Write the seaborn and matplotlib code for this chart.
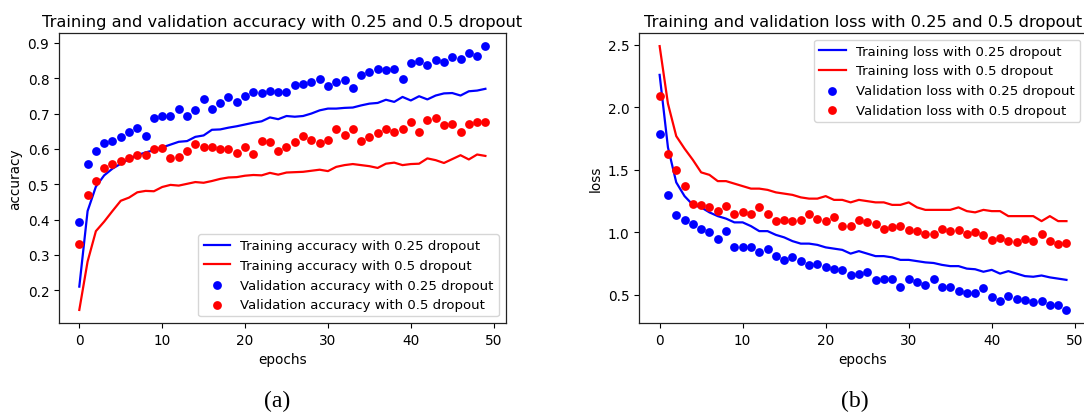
import numpy as np
import matplotlib
matplotlib.use("Agg")
import matplotlib.pyplot as plt
import seaborn as sns

epochs = list(range(50))

train_acc_25 = [0.210, 0.424, 0.493, 0.525, 0.544, 0.558, 0.571, 0.582, 0.590, 0.596,
                0.604, 0.612, 0.620, 0.622, 0.634, 0.638, 0.654, 0.655, 0.660, 0.664,
                0.669, 0.674, 0.678, 0.689, 0.684, 0.693, 0.691, 0.693, 0.700, 0.709,
                0.714, 0.714, 0.716, 0.717, 0.723, 0.728, 0.730, 0.739, 0.733, 0.747,
                0.737, 0.749, 0.740, 0.751, 0.757, 0.758, 0.751, 0.763, 0.765, 0.770]
train_acc_5 = [0.144, 0.281, 0.367, 0.394, 0.424, 0.453, 0.462, 0.477, 0.481, 0.480,
               0.492, 0.498, 0.496, 0.501, 0.506, 0.504, 0.509, 0.515, 0.519, 0.520,
               0.524, 0.526, 0.525, 0.532, 0.527, 0.533, 0.534, 0.535, 0.538, 0.541,
               0.537, 0.549, 0.554, 0.557, 0.554, 0.551, 0.546, 0.558, 0.561, 0.554,
               0.557, 0.558, 0.573, 0.568, 0.560, 0.571, 0.582, 0.570, 0.584, 0.580]
val_acc_25 = [0.392, 0.557, 0.593, 0.618, 0.622, 0.633, 0.649, 0.660, 0.637, 0.686,
              0.694, 0.692, 0.712, 0.692, 0.710, 0.740, 0.712, 0.730, 0.746, 0.733,
              0.750, 0.760, 0.759, 0.764, 0.760, 0.762, 0.780, 0.784, 0.789, 0.797,
              0.779, 0.789, 0.794, 0.772, 0.810, 0.817, 0.825, 0.824, 0.827, 0.797,
              0.843, 0.850, 0.836, 0.851, 0.845, 0.860, 0.855, 0.871, 0.862, 0.891]
val_acc_5 = [0.332, 0.470, 0.510, 0.545, 0.558, 0.565, 0.575, 0.582, 0.583, 0.600,
             0.603, 0.575, 0.576, 0.593, 0.614, 0.606, 0.604, 0.601, 0.600, 0.587,
             0.605, 0.586, 0.623, 0.619, 0.595, 0.605, 0.619, 0.637, 0.626, 0.617,
             0.626, 0.655, 0.640, 0.655, 0.622, 0.634, 0.645, 0.655, 0.648, 0.655,
             0.676, 0.648, 0.683, 0.687, 0.667, 0.670, 0.648, 0.671, 0.676, 0.676]

train_loss_25 = [2.26, 1.68, 1.40, 1.29, 1.22, 1.20, 1.16, 1.13, 1.11, 1.08,
                 1.08, 1.05, 1.01, 1.01, 0.98, 0.96, 0.93, 0.91, 0.91, 0.90,
                 0.88, 0.87, 0.86, 0.83, 0.85, 0.83, 0.81, 0.81, 0.80, 0.78,
                 0.78, 0.77, 0.76, 0.755, 0.74, 0.73, 0.73, 0.71, 0.705, 0.685,
                 0.70, 0.67, 0.69, 0.67, 0.65, 0.645, 0.655, 0.64, 0.63, 0.62]
train_loss_5 = [2.49, 2.03, 1.77, 1.67, 1.58, 1.48, 1.46, 1.41, 1.41, 1.39,
                1.37, 1.35, 1.35, 1.34, 1.32, 1.31, 1.30, 1.28, 1.27, 1.27,
                1.29, 1.26, 1.26, 1.24, 1.26, 1.25, 1.24, 1.24, 1.22, 1.22,
                1.24, 1.20, 1.18, 1.18, 1.18, 1.18, 1.20, 1.17, 1.16, 1.18,
                1.17, 1.17, 1.13, 1.13, 1.13, 1.13, 1.09, 1.13, 1.09, 1.09]
val_loss_25 = [1.79, 1.30, 1.14, 1.10, 1.07, 1.03, 1.00, 0.95, 1.01, 0.88,
               0.88, 0.88, 0.84, 0.87, 0.81, 0.78, 0.80, 0.775, 0.74, 0.75,
               0.72, 0.71, 0.70, 0.66, 0.67, 0.685, 0.62, 0.63, 0.625, 0.565,
               0.63, 0.605, 0.58, 0.625, 0.56, 0.56, 0.53, 0.515, 0.515, 0.555,
               0.485, 0.45, 0.49, 0.465, 0.46, 0.445, 0.455, 0.42, 0.42, 0.38]
val_loss_5 = [2.09, 1.63, 1.50, 1.37, 1.23, 1.22, 1.20, 1.17, 1.21, 1.15,
              1.16, 1.15, 1.20, 1.15, 1.09, 1.10, 1.09, 1.10, 1.15, 1.11,
              1.09, 1.12, 1.05, 1.05, 1.10, 1.08, 1.07, 1.03, 1.04, 1.05,
              1.02, 1.01, 0.99, 0.99, 1.03, 1.01, 1.02, 0.99, 1.00, 0.98,
              0.94, 0.955, 0.93, 0.92, 0.945, 0.93, 0.99, 0.93, 0.91, 0.915]

plt.rcParams['font.family'] = ['DejaVu Sans']
FS = 9.8
LFS = 9.5
TFS = 11.7
LW = 1.6
MS = 40

W, H = 1084, 414
fig = plt.figure(figsize=(W / 100, H / 100), dpi=100)
ax1 = fig.add_axes([59 / W, 90 / H, (505.7 - 59) / W, 290 / H])
ax2 = fig.add_axes([639.3 / W, 90 / H, (1086.8 - 639.3) / W, 290 / H])


def panel(ax, tr25, tr5, va25, va5, name, title):
    sns.lineplot(x=epochs, y=tr25, color='b', lw=LW, ax=ax,
                 label='Training %s with 0.25 dropout' % name)
    sns.lineplot(x=epochs, y=tr5, color='r', lw=LW, ax=ax,
                 label='Training %s with 0.5 dropout' % name)
    sns.scatterplot(x=epochs, y=va25, color='b', s=MS, linewidth=0, ax=ax,
                    label='Validation %s with 0.25 dropout' % name, zorder=3)
    sns.scatterplot(x=epochs, y=va5, color='r', s=MS, linewidth=0, ax=ax,
                    label='Validation %s with 0.5 dropout' % name, zorder=3)
    ax.set_title(title, fontsize=TFS, pad=5)
    ax.set_xlabel('epochs', fontsize=FS)
    ax.set_ylabel(name, fontsize=FS)
    ax.tick_params(labelsize=FS, length=3.5, width=0.8)
    ax.set_xticks([0, 10, 20, 30, 40, 50])
    for s in ax.spines.values():
        s.set_color('#222222')
        s.set_linewidth(0.9)


panel(ax1, train_acc_25, train_acc_5, val_acc_25, val_acc_5, 'accuracy',
      'Training and validation accuracy with 0.25 and 0.5 dropout')
ax1.legend(loc='lower right', fontsize=LFS, scatterpoints=1, framealpha=0.8,
           edgecolor='#cccccc', borderaxespad=0.5)
panel(ax2, train_loss_25, train_loss_5, val_loss_25, val_loss_5, 'loss',
      'Training and validation loss with 0.25 and 0.5 dropout')
ax2.legend(loc='upper right', fontsize=LFS, scatterpoints=1, framealpha=0.8,
           edgecolor='#cccccc', borderaxespad=0.5)
ax1.set_xlim(-2.45, 51.45)
ax2.set_xlim(-2.45, 51.45)
ax1.set_ylim(0.107, 0.928)
ax2.set_ylim(0.275, 2.595)
ax1.set_yticks([0.2, 0.3, 0.4, 0.5, 0.6, 0.7, 0.8, 0.9])
ax2.set_yticks([0.5, 1.0, 1.5, 2.0, 2.5])

fig.text(277 / W, 1 - 401 / H, '(a)', ha='center', va='center',
         fontsize=17, family='Liberation Serif')
fig.text(855 / W, 1 - 401 / H, '(b)', ha='center', va='center',
         fontsize=17, family='Liberation Serif')

fig.savefig('out.png', dpi=100)
